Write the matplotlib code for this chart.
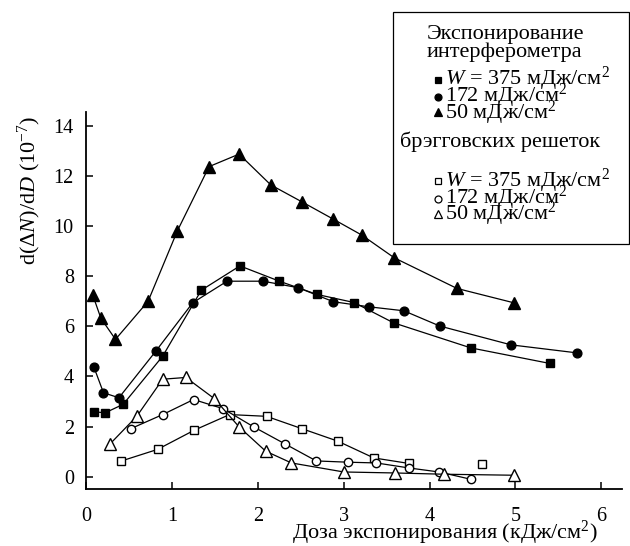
"""Derivative of the induced index change versus exposure dose."""

import matplotlib

matplotlib.use("Agg")
from matplotlib import pyplot as plt
from matplotlib.lines import Line2D
from matplotlib.patches import Rectangle

# interferometer exposure, filled markers
int_375_x = [0.09, 0.22, 0.43, 0.89, 1.34, 1.79, 2.25, 2.69, 3.12, 3.58, 4.48, 5.40]
int_375_y = [2.59, 2.55, 2.89, 4.81, 7.44, 8.41, 7.80, 7.27, 6.95, 6.14, 5.14, 4.52]

int_172_x = [0.09, 0.20, 0.38, 0.81, 1.24, 1.64, 2.06, 2.47, 2.88, 3.29, 3.70, 4.12, 4.95, 5.72]
int_172_y = [4.36, 3.35, 3.15, 5.01, 6.94, 7.80, 7.80, 7.54, 6.98, 6.78, 6.62, 6.01, 5.26, 4.94]

int_50_x = [0.075, 0.17, 0.34, 0.72, 1.06, 1.43, 1.78, 2.15, 2.51, 2.87, 3.21, 3.59, 4.32, 4.98]
int_50_y = [7.25, 6.32, 5.48, 7.00, 9.80, 12.37, 12.87, 11.64, 10.97, 10.29, 9.64, 8.73, 7.51, 6.94]

# Bragg grating exposure, open markers
bragg_375_x = [0.41, 0.83, 1.26, 1.67, 2.10, 2.51, 2.93, 3.35, 3.76]
bragg_375_y = [0.63, 1.09, 1.86, 2.48, 2.41, 1.92, 1.42, 0.75, 0.53]
bragg_375_extra_x = [4.61]
bragg_375_extra_y = [0.49]

bragg_172_x = [0.52, 0.89, 1.25, 1.59, 1.95, 2.32, 2.68, 3.05, 3.38, 3.76, 4.11, 4.48]
bragg_172_y = [1.92, 2.48, 3.08, 2.72, 1.99, 1.30, 0.63, 0.58, 0.55, 0.35, 0.19, -0.10]

bragg_50_x = [0.28, 0.59, 0.89, 1.16, 1.49, 1.78, 2.09, 2.39, 3.00, 3.60, 4.17, 4.98]
bragg_50_y = [1.32, 2.42, 3.89, 3.96, 3.12, 1.99, 1.02, 0.55, 0.19, 0.15, 0.10, 0.06]

x_ticks = [0, 1, 2, 3, 4, 5, 6]
y_ticks = [0, 2, 4, 6, 8, 10, 12, 14]

legend_int_title = ["Экспонирование", "интерферометра"]
legend_bragg_title = "брэгговских решеток"
legend_labels = ["$W$ = 375 мДж/см$^2$", "172 мДж/см$^2$", "50 мДж/см$^2$"]

plt.rcParams["font.family"] = "Liberation Serif"
plt.rcParams["mathtext.fontset"] = "custom"
plt.rcParams["mathtext.rm"] = "Liberation Serif"
plt.rcParams["mathtext.it"] = "Liberation Serif:italic"

W, H = 630, 546


def px(x, y):
    """Pixel position (from top-left) to figure fraction."""
    return x / W, 1 - y / H


fig = plt.figure(figsize=(W / 100, H / 100), dpi=100)
ax = fig.add_axes([0.137, 0.1039, 0.850, 0.691])

line_kw = dict(color="black", lw=0.9)
ax.plot(int_375_x, int_375_y, marker="s", ms=6, mfc="black", mec="black", **line_kw)
ax.plot(int_172_x, int_172_y, marker="o", ms=6.3, mfc="black", mec="black", **line_kw)
ax.plot(int_50_x, int_50_y, marker="^", ms=9, mfc="black", mec="black", **line_kw)

open_kw = dict(mfc="white", mec="black", mew=1.0)
ax.plot(bragg_375_x, bragg_375_y, marker="s", ms=5.8, **open_kw, **line_kw)
ax.plot(bragg_375_extra_x, bragg_375_extra_y, ls="none", marker="s", ms=5.8, **open_kw)
ax.plot(bragg_172_x, bragg_172_y, marker="o", ms=6, **open_kw, **line_kw)
ax.plot(bragg_50_x, bragg_50_y, marker="^", ms=8.5, **open_kw, **line_kw)

ax.set_xlim(0, 6.24)
ax.set_ylim(-0.5, 14.55)
ax.set_xticks(x_ticks)
ax.set_yticks(y_ticks)
for side in ("top", "right"):
    ax.spines[side].set_visible(False)
for side in ("left", "bottom"):
    ax.spines[side].set_linewidth(1.3)
ax.tick_params(direction="in", length=5, width=1.1, labelsize=14.5)
ax.tick_params(axis="x", pad=13)
ax.tick_params(axis="y", pad=9)

fig.text(*px(598, 533), "Доза экспонирования (кДж/см$^2$)", fontsize=16,
         ha="right", va="center")
fig.text(*px(29, 190), r"d($\mathit{\Delta}N$)/d$D$ (10$^{-7}$)", fontsize=16,
         rotation=90, ha="center", va="center")

# legend box with two groups of markers
bx0, by0 = px(393, 244)
bx1, by1 = px(629, 12)
fig.add_artist(Rectangle((bx0, by0), bx1 - bx0, by1 - by0, transform=fig.transFigure,
                         fill=False, edgecolor="black", lw=0.9))

leg_fs = 16
fig.text(*px(427, 39), legend_int_title[0], fontsize=leg_fs, va="baseline")
fig.text(*px(427, 57), legend_int_title[1], fontsize=leg_fs, va="baseline")
fig.text(*px(400, 147), legend_bragg_title, fontsize=leg_fs, va="baseline")

rows = [
    ("s", 80, 85, 4.8),
    ("o", 97, 102, 5.0),
    ("^", 112.5, 118.5, 6.2),
]
for dy, face in [(0, "black"), (101.5, "white")]:
    for (mk, my, ty, ms), label in zip(rows, legend_labels):
        mx, my_frac = px(438, my + dy)
        fig.add_artist(Line2D([mx], [my_frac], transform=fig.transFigure, marker=mk,
                              ms=ms, mfc=face, mec="black", mew=0.9, ls="none"))
        fig.text(*px(445, ty + dy), label, fontsize=leg_fs, va="baseline")

fig.savefig("out.png", dpi=100)
